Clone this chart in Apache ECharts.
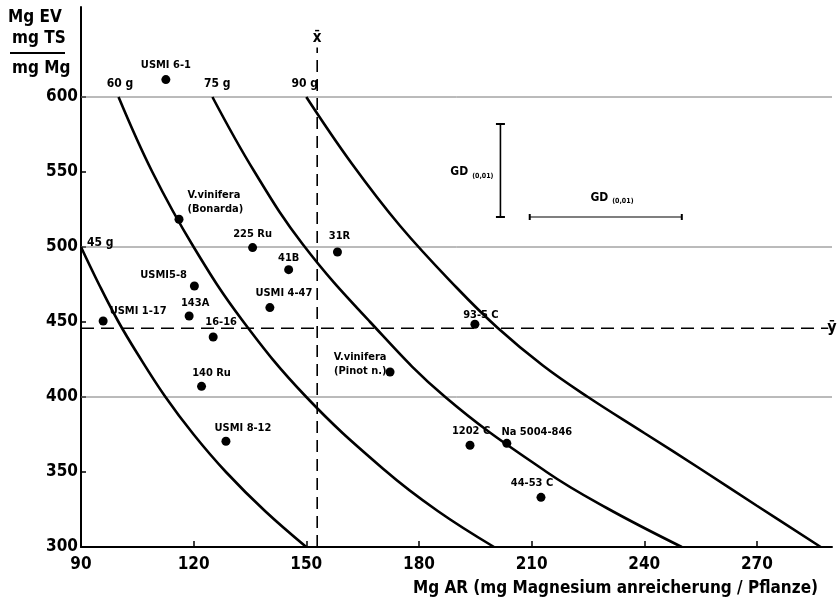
<!DOCTYPE html>
<html>
<head>
<meta charset="utf-8">
<script src="https://cdn.jsdelivr.net/npm/echarts@6/dist/echarts.min.js"></script>
<style>
html, body { margin: 0; background: #fff; }
#box { width: 840px; height: 613px; }
</style>
</head>
<body>
<div id="box"></div>
<script>
var FONT = '"DejaVu Sans Condensed", "DejaVu Sans", sans-serif';

// axis ticks
var xTicks = [90, 120, 150, 180, 210, 240, 270];
var yTicks = [300, 350, 400, 450, 500, 550, 600];

// varieties: Mg AR (x) and Mg EV per mg TS per mg Mg (y)
var varieties = ['USMI 6-1', 'V.vinifera\n(Bonarda)', '225 Ru', '31R', '41B', 'USMI5-8', 'USMI 4-47',
  '143A', 'USMI 1-17', '16-16', '140 Ru', 'USMI 8-12', 'V.vinifera\n(Pinot n.)', '93-5 C',
  '1202 C', 'Na 5004-846', '44-53 C'];
var mgAR = [112.6, 116.1, 135.7, 158.3, 145.3, 120.2, 140.3, 118.8, 95.9, 125.2, 122.1, 128.6, 172.3, 194.9, 193.6, 203.4, 212.5];
var mgEV = [611.6, 518.5, 499.6, 496.7, 484.9, 474, 459.6, 454, 450.7, 440, 407.1, 370.5, 416.7, 448.5, 367.8, 369.1, 333.1];

// iso lines (g)
var isoNames = ['45 g', '60 g', '75 g', '90 g'];
var iso45 = [[90, 500], [95, 474], [100, 450], [105, 429], [112.5, 400], [120, 375], [128.6, 350], [139, 324], [150, 300]];
var iso60 = [[100, 600], [109, 550], [120, 500], [133, 451], [150, 400], [171, 351], [185, 324], [200, 300]];
var iso75 = [[125, 600], [136, 551], [149, 502], [167, 450], [187, 400], [214, 350], [230, 326], [250, 300]];
var iso90 = [[150, 600], [162, 556], [175, 514], [190, 473], [201, 446], [213, 421], [225, 400], [240, 376], [255, 352], [270, 327.5], [287, 300]];
var isoLabelAt = [[95.1, 503], [100.4, 608.5], [126.3, 608.5], [149.6, 608.5]];

var meanX = 152.9;
var meanY = 445.8;
var gridLevels = [400, 500, 600];

// GD(0,01) bars
var gdVert = [[201.7, 520], [201.7, 582]];
var gdHorz = [[209.5, 520], [250, 520]];

// label placement for the points (style only)
var labelPlace = {
  'USMI 6-1': { position: 'top', distance: 3 },
  'V.vinifera\n(Bonarda)': { position: 'right', distance: 4, offset: [0, -17] },
  '225 Ru': { position: 'top', distance: 2 },
  '31R': { position: 'top', distance: 4, offset: [2, 0] },
  '41B': { position: 'top', distance: 0 },
  'USMI5-8': { position: 'left', distance: 3, offset: [0, -11] },
  'USMI 4-47': { position: 'top', distance: 3, offset: [14, 0] },
  '143A': { position: 'top', distance: 1, offset: [6, 0] },
  'USMI 1-17': { position: 'right', distance: 2, offset: [0, -10] },
  '16-16': { position: 'top', distance: 3, offset: [8, 0] },
  '140 Ru': { position: 'top', distance: 2, offset: [10, 0] },
  'USMI 8-12': { position: 'top', distance: 2, offset: [17, 0] },
  'V.vinifera\n(Pinot n.)': { position: 'left', distance: -1, offset: [0, -8] },
  '93-5 C': { position: 'top', distance: -2, offset: [6, 0] },
  '1202 C': { position: 'top', distance: 3, offset: [1, 0] },
  'Na 5004-846': { position: 'top', distance: 0, offset: [30, 0] },
  '44-53 C': { position: 'top', distance: 3, offset: [-9, 0] }
};

var chart = echarts.init(document.getElementById('box'));

var points = varieties.map(function (name, i) {
  var p = labelPlace[name] || {};
  return {
    name: name,
    value: [mgAR[i], mgEV[i]],
    label: {
      position: p.position || 'top',
      distance: p.distance == null ? 3 : p.distance,
      offset: p.offset || [0, 0],
      align: p.position === 'left' ? 'right' : (p.position === 'right' ? 'left' : 'center')
    }
  };
});

function isoSeries(data) {
  return {
    type: 'line', data: data, smooth: 0.4, symbol: 'none', silent: true,
    lineStyle: { color: '#000', width: 2.6 }, z: 3
  };
}

var lineBase = { type: 'line', symbol: 'none', silent: true, animation: false };

var gridSeries = gridLevels.map(function (v) {
  return Object.assign({}, lineBase, {
    data: [[90, v], [290, v]],
    lineStyle: { color: '#777', width: 1 }, z: 1
  });
});

var option = {
  animation: false,
  grid: { left: 81, right: 8, top: 7, bottom: 66 },
  xAxis: {
    type: 'value', min: 90, max: 290, interval: 30,
    axisLine: { lineStyle: { color: '#000', width: 2 } },
    axisTick: { inside: true, length: 6, customValues: xTicks, lineStyle: { color: '#000', width: 1.5 } },
    splitLine: { show: false },
    axisLabel: {
      customValues: xTicks, margin: 9, color: '#000',
      fontFamily: FONT, fontWeight: 'bold', fontSize: 17
    }
  },
  yAxis: {
    type: 'value', min: 300, max: 660, interval: 50,
    axisLine: { lineStyle: { color: '#000', width: 2 } },
    axisTick: { inside: true, length: 5, customValues: yTicks, lineStyle: { color: '#000', width: 1.5 } },
    splitLine: { show: false },
    axisLabel: {
      customValues: yTicks, margin: 3, color: '#000',
      fontFamily: FONT, fontWeight: 'bold', fontSize: 17
    }
  },
  graphic: [
    { type: 'text', left: 8, top: 9, style: { text: 'Mg EV', font: 'bold 17px ' + FONT, fill: '#000' } },
    { type: 'text', left: 12, top: 30, style: { text: 'mg TS', font: 'bold 17px ' + FONT, fill: '#000' } },
    { type: 'line', shape: { x1: 10, y1: 53, x2: 65, y2: 53 }, style: { stroke: '#000', lineWidth: 2 } },
    { type: 'text', left: 12, top: 60, style: { text: 'mg Mg', font: 'bold 17px ' + FONT, fill: '#000' } },
    { type: 'text', right: 22, top: 580, style: { text: 'Mg AR (mg Magnesium anreicherung / Pflanze)', font: 'bold 17px ' + FONT, fill: '#000' } }
  ],
  series: gridSeries.concat([
    isoSeries(iso45), isoSeries(iso60), isoSeries(iso75), isoSeries(iso90),
    Object.assign({}, lineBase, {
      data: [[meanX, 300], [meanX, 633]],
      lineStyle: { color: '#000', width: 1.6, type: [12, 7] }, z: 2
    }),
    Object.assign({}, lineBase, {
      data: [[90, meanY], [289, meanY]],
      lineStyle: { color: '#000', width: 1.4, type: [13, 7] }, z: 2
    }),
    Object.assign({}, lineBase, {
      data: gdVert, symbol: 'rect', symbolSize: [9, 2], showSymbol: true,
      itemStyle: { color: '#000' }, lineStyle: { color: '#000', width: 1.6 }
    }),
    Object.assign({}, lineBase, {
      data: gdHorz, symbol: 'rect', symbolSize: [2, 6], showSymbol: true,
      itemStyle: { color: '#000' }, lineStyle: { color: '#000', width: 1.2 }
    }),
    {
      type: 'scatter', silent: true, symbolSize: 0, z: 5,
      itemStyle: { color: 'rgba(0,0,0,0)' },
      data: isoNames.map(function (n, i) { return { name: n, value: isoLabelAt[i] }; })
        .concat([
          { name: 'x\u0304', value: [meanX, 639], label: { fontSize: 15 } },
          { name: '\u0233', value: [290, meanY], label: { fontSize: 16 } },
          { name: 'GD', value: [194.1, 549.8], label: { formatter: '{a|GD}{b|(0,01)}' } },
          { name: 'GD2', value: [231.4, 533], label: { formatter: '{a|GD}{b|(0,01)}' } }
        ]),
      label: {
        show: true, position: 'inside', color: '#000', opacity: 1,
        fontFamily: FONT, fontWeight: 'bold', fontSize: 12,
        formatter: '{b}',
        rich: {
          a: { fontFamily: FONT, fontWeight: 'bold', fontSize: 12, color: '#000' },
          b: { fontFamily: FONT, fontWeight: 'bold', fontSize: 7, color: '#000', padding: [7, 0, 0, 4] }
        }
      }
    },
    {
      type: 'scatter', silent: true, symbol: 'circle', symbolSize: 9, z: 6,
      itemStyle: { color: '#000', opacity: 1 },
      data: points,
      label: {
        show: true, formatter: '{b}', color: '#000', opacity: 1,
        fontFamily: FONT, fontWeight: 'bold', fontSize: 11, lineHeight: 14
      }
    }
  ])
};

chart.setOption(option);
</script>
</body>
</html>
